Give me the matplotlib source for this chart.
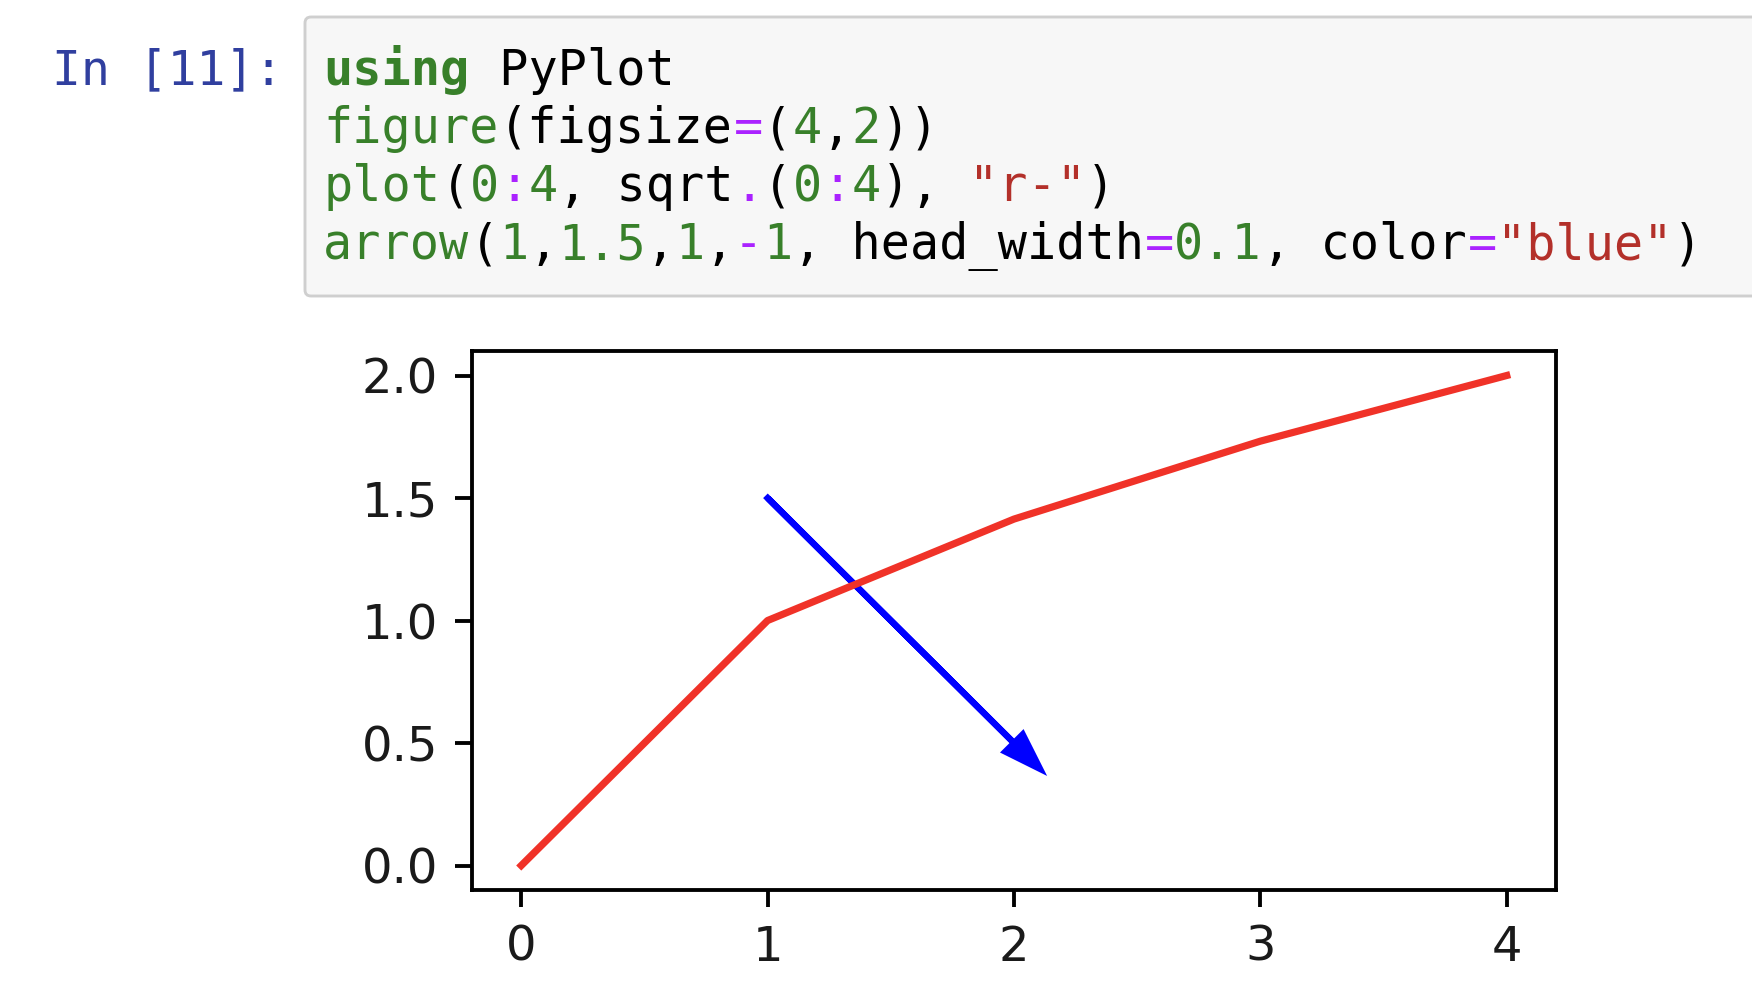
import matplotlib
matplotlib.use("Agg")
import matplotlib.pyplot as plt
from matplotlib.patches import FancyBboxPatch
from matplotlib.transforms import IdentityTransform

# picture size in pixels, drawn at a retina-like dpi so default sizes fit
W, H = 1752, 1006
DPI = 346

# data of the plot
x_vals = [0, 1, 2, 3, 4]
y_vals = [0.0, 1.0, 1.414, 1.732, 2.0]
arrow_start = (1, 1.5)
arrow_delta = (1, -1)
head_width = 0.1
x_ticks = [0, 1, 2, 3, 4]
y_ticks = [0.0, 0.5, 1.0, 1.5, 2.0]
y_tick_labels = ["0.0", "0.5", "1.0", "1.5", "2.0"]

# notebook cell text
prompt = "In [11]:"
GREEN = "#38802a"
PURPLE = "#aa22ff"
RED = "#b3302a"
BLACK = "#000000"
code_lines = [
    [("using", GREEN, "bold"), (" PyPlot", BLACK, "normal")],
    [("figure", GREEN, "normal"), ("(figsize", BLACK, "normal"), ("=", PURPLE, "normal"),
     ("(", BLACK, "normal"), ("4", GREEN, "normal"), (",", BLACK, "normal"),
     ("2", GREEN, "normal"), ("))", BLACK, "normal")],
    [("plot", GREEN, "normal"), ("(", BLACK, "normal"), ("0", GREEN, "normal"),
     (":", PURPLE, "normal"), ("4", GREEN, "normal"), (", sqrt", BLACK, "normal"),
     (".", PURPLE, "normal"), ("(", BLACK, "normal"), ("0", GREEN, "normal"),
     (":", PURPLE, "normal"), ("4", GREEN, "normal"), ("), ", BLACK, "normal"),
     ('"r-"', RED, "normal"), (")", BLACK, "normal")],
    [("arrow", GREEN, "normal"), ("(", BLACK, "normal"), ("1", GREEN, "normal"),
     (",", BLACK, "normal"), ("1.5", GREEN, "normal"), (",", BLACK, "normal"),
     ("1", GREEN, "normal"), (",", BLACK, "normal"), ("-", PURPLE, "normal"),
     ("1", GREEN, "normal"), (", head_width", BLACK, "normal"), ("=", PURPLE, "normal"),
     ("0.1", GREEN, "normal"), (", color", BLACK, "normal"), ("=", PURPLE, "normal"),
     ('"blue"', RED, "normal"), (")", BLACK, "normal")],
]

fig = plt.figure(figsize=(W / DPI, H / DPI), dpi=DPI)
fig.patch.set_facecolor("white")

# code cell box (pixel coords, origin bottom-left)
box = FancyBboxPatch((305, H - 296), 1600, 279,
                     boxstyle="round,pad=0,rounding_size=6",
                     facecolor="#f7f7f7", edgecolor="#cfcfcf", lw=0.6,
                     transform=IdentityTransform())
fig.add_artist(box)

mono = "DejaVu Sans Mono"
fig.text(52, H - 84, prompt, transform=IdentityTransform(), family=mono,
         fontsize=10.0, color="#303f9f", va="baseline", ha="left")

cw = 29.35  # width of one code column in pixels
x0 = 323
baselines = [85, 143, 201, 259]
for line, base in zip(code_lines, baselines):
    col = 0
    for txt, c, wt in line:
        fig.text(x0 + col * cw, H - base, txt, transform=IdentityTransform(),
                 family=mono, fontsize=10.1, color=c, fontweight=wt,
                 va="baseline", ha="left")
        col += len(txt)

# the plot output
ax = fig.add_axes([472 / W, (H - 890) / H, (1556 - 472) / W, (890 - 351) / H])
ax.plot(x_vals, y_vals, color="#f03228", lw=1.5)
ax.arrow(arrow_start[0], arrow_start[1], arrow_delta[0], arrow_delta[1],
         head_width=head_width, color="blue", lw=1.3)
ax.set_xlim(-0.2, 4.2)
ax.set_ylim(-0.1, 2.1)
ax.set_xticks(x_ticks)
ax.set_yticks(y_ticks)
ax.set_yticklabels(y_tick_labels)
ax.tick_params(labelcolor="#1a1a1a")

fig.savefig("out.png", dpi=DPI)
